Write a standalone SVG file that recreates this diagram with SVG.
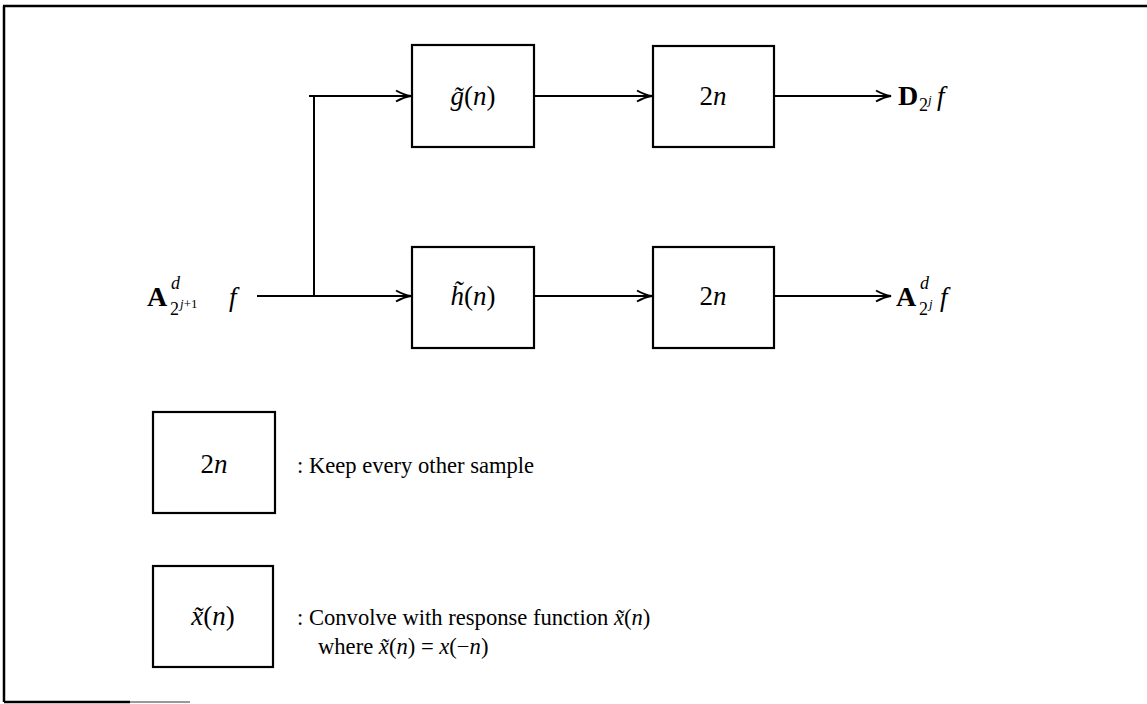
<svg xmlns="http://www.w3.org/2000/svg" width="1147" height="704" viewBox="0 0 1147 704">
  <style>
    .box { fill: none; stroke: #000; stroke-width: 2.2; }
    .wire { fill: none; stroke: #000; stroke-width: 2; }
    .frame { fill: none; stroke: #000; stroke-width: 2.5; }
    text { font-family: "Liberation Serif", "DejaVu Serif", serif; fill: #000; }
    .t { font-size: 22.6px; }
    .m { font-size: 27px; font-style: italic; }
    .mi { font-style: italic; }
    .r { font-style: normal; }
    .b { font-size: 28px; font-weight: bold; }
    .sup { font-size: 18px; font-style: italic; }
    .sub { font-size: 18px; }
    .tiny { font-size: 13px; font-style: italic; }
  </style>
  <defs>
    <marker id="arrow" markerWidth="18" markerHeight="14" refX="16" refY="7" orient="auto" markerUnits="userSpaceOnUse">
      <path d="M1,1.5 Q9,6 16,7 Q9,8 1,12.5" fill="none" stroke="#000" stroke-width="2"/>
    </marker>
  </defs>

  <!-- page frame -->
  <g id="frame">
    <line class="frame" x1="3" y1="6" x2="1147" y2="6"/>
    <line class="frame" x1="4" y1="6" x2="4" y2="702"/>
    <line class="frame" x1="4" y1="702" x2="130" y2="702"/>
    <line x1="130" y1="702" x2="190" y2="702" stroke="#999" stroke-width="2"/>
  </g>

  <!-- connectors -->
  <g id="connectors">
    <line class="wire" x1="257" y1="296" x2="314" y2="296"/>
    <line class="wire" x1="314" y1="96" x2="314" y2="296"/>
    <line class="wire" x1="309" y1="96" x2="411" y2="96" marker-end="url(#arrow)"/>
    <line class="wire" x1="314" y1="296" x2="411" y2="296" marker-end="url(#arrow)"/>
    <line class="wire" x1="534" y1="96" x2="652" y2="96" marker-end="url(#arrow)"/>
    <line class="wire" x1="534" y1="296" x2="652" y2="296" marker-end="url(#arrow)"/>
    <line class="wire" x1="774" y1="96" x2="891" y2="96" marker-end="url(#arrow)"/>
    <line class="wire" x1="774" y1="296" x2="891" y2="296" marker-end="url(#arrow)"/>
  </g>

  <!-- input label -->
  <g id="input">
    <text x="147" y="306" class="b">A</text>
    <text x="171" y="289" class="sup">d</text>
    <text x="170" y="315" class="sub">2</text>
    <text x="180" y="308" class="tiny">j<tspan class="r">+1</tspan></text>
    <text x="229" y="306" class="m">f</text>
  </g>

  <!-- filter g -->
  <g id="g-filter">
    <rect class="box" x="412" y="45" width="122" height="102"/>
    <text x="473" y="105" class="m" text-anchor="middle">g̃<tspan class="r">(</tspan>n<tspan class="r">)</tspan></text>
  </g>

  <!-- filter h -->
  <g id="h-filter">
    <rect class="box" x="412" y="247" width="122" height="101"/>
    <text x="473" y="305" class="m" text-anchor="middle">h̃<tspan class="r">(</tspan>n<tspan class="r">)</tspan></text>
  </g>

  <!-- downsampler, detail branch -->
  <g id="down-detail">
    <rect class="box" x="653" y="46" width="121" height="101"/>
    <text x="713" y="105" class="m" text-anchor="middle"><tspan class="r">2</tspan>n</text>
  </g>

  <!-- downsampler, approximation branch -->
  <g id="down-approx">
    <rect class="box" x="653" y="247" width="121" height="101"/>
    <text x="713" y="305" class="m" text-anchor="middle"><tspan class="r">2</tspan>n</text>
  </g>

  <!-- detail output label -->
  <g id="out-detail">
    <text x="898" y="105" class="b">D</text>
    <text x="919" y="111" class="sub">2</text>
    <text x="928" y="104" class="tiny">j</text>
    <text x="937" y="105" class="m">f</text>
  </g>

  <!-- approximation output label -->
  <g id="out-approx">
    <text x="896" y="306" class="b">A</text>
    <text x="920" y="289" class="sup">d</text>
    <text x="919" y="315" class="sub">2</text>
    <text x="929" y="308" class="tiny">j</text>
    <text x="940" y="306" class="m">f</text>
  </g>

  <!-- legend: downsampler -->
  <g id="legend-down">
    <rect class="box" x="153" y="412" width="122" height="101"/>
    <text x="214" y="473" class="m" text-anchor="middle"><tspan class="r">2</tspan>n</text>
    <text x="297" y="473" class="t">: Keep every other sample</text>
  </g>

  <!-- legend: filter -->
  <g id="legend-filter">
    <rect class="box" x="153" y="566" width="120" height="101"/>
    <text x="213" y="625" class="m" text-anchor="middle">x̃<tspan class="r">(</tspan>n<tspan class="r">)</tspan></text>
    <text x="297" y="625" class="t">: Convolve with response function <tspan class="mi">x̃</tspan>(<tspan class="mi">n</tspan>)</text>
    <text x="318" y="654" class="t">where <tspan class="mi">x̃</tspan>(<tspan class="mi">n</tspan>) = <tspan class="mi">x</tspan>(−<tspan class="mi">n</tspan>)</text>
  </g>
</svg>
